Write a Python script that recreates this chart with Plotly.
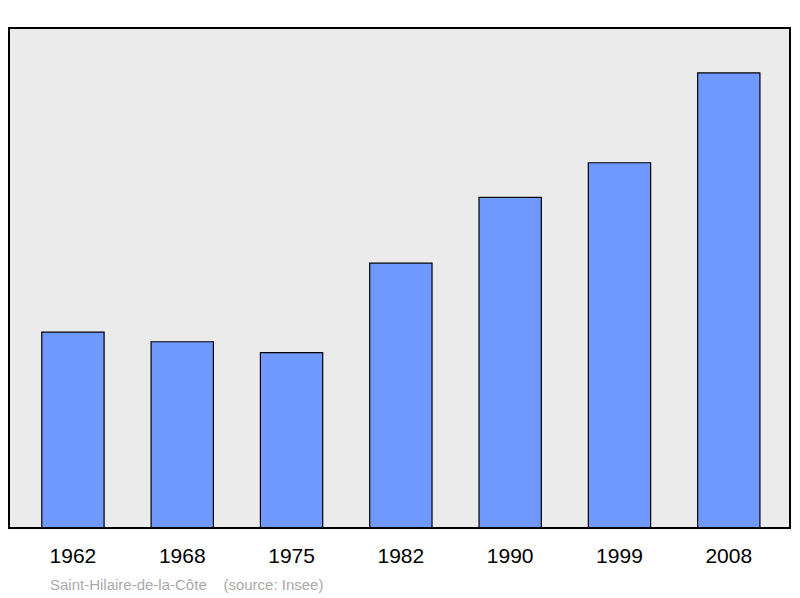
import plotly.graph_objects as go

years = ["1962", "1968", "1975", "1982", "1990", "1999", "2008"]
population = [593, 564, 531, 802, 1001, 1106, 1378]
labels = ["593", "564", "531", "802", "1 001", "1 106", "1 378"]

fig = go.Figure()
fig.add_trace(
    go.Bar(
        x=years,
        y=population,
        width=0.57,
        marker=dict(color="#7099ff", line=dict(color="black", width=1.2)),
        hoverinfo="x+y",
    )
)

annotations = [
    dict(x=yr, y=val, text=lab, showarrow=False, yanchor="bottom", yshift=11,
         font=dict(size=18, color="black"))
    for yr, val, lab in zip(years, population, labels)
]
annotations.append(
    dict(text="Saint-Hilaire-de-la-Côte    (source: Insee)",
         xref="paper", yref="paper", x=0.05, y=-0.112,
         xanchor="left", yanchor="middle", showarrow=False,
         font=dict(size=15, color="#aaaaaa"))
)

fig.update_layout(
    width=800,
    height=598,
    margin=dict(l=1, r=18, t=20, b=78),
    paper_bgcolor="white",
    plot_bgcolor="#ebebeb",
    font=dict(family="Liberation Sans, Arial, sans-serif"),
    showlegend=False,
    xaxis=dict(range=[-0.585, 6.56], showgrid=False, ticks="",
               tickfont=dict(size=21, color="black"), ticklabelstandoff=13),
    yaxis=dict(range=[0, 1514], visible=False),
    shapes=[dict(type="rect", xref="paper", yref="paper", x0=0, x1=1, y0=0, y1=1,
                 line=dict(color="black", width=2))],
    annotations=annotations,
)

fig.write_html("out.html")
